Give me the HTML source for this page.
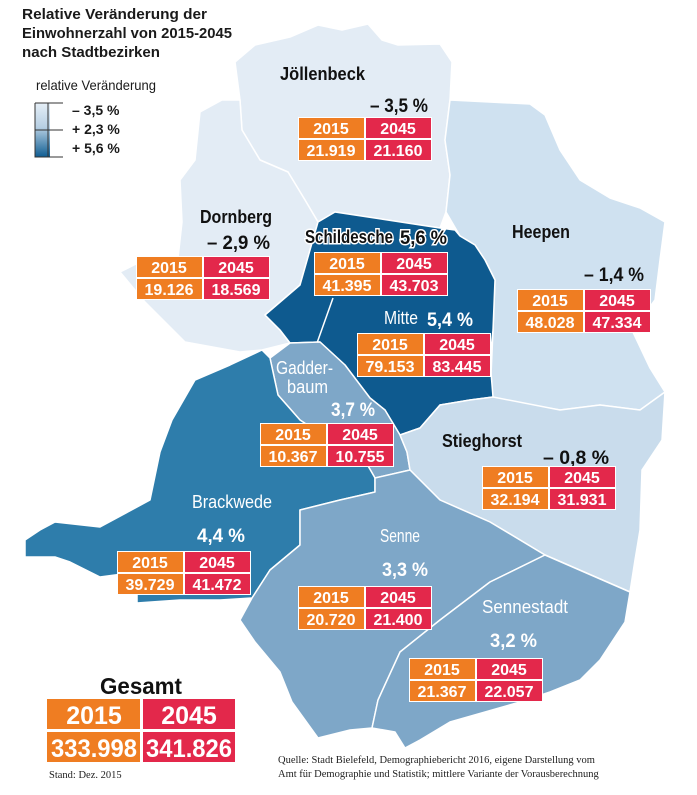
<!DOCTYPE html>
<html><head><meta charset="utf-8"><style>
body{margin:0;background:#fff;}
svg{display:block;}
.t{font-family:"Liberation Sans",sans-serif;font-weight:bold;}
.n{font-family:"Liberation Sans",sans-serif;}
</style></head><body>
<svg width="697" height="795" viewBox="0 0 697 795" xmlns="http://www.w3.org/2000/svg">
<defs>
<linearGradient id="lg" x1="0" y1="0" x2="0" y2="1">
<stop offset="0" stop-color="#e6eff7"/><stop offset="0.45" stop-color="#b6cfe3"/><stop offset="1" stop-color="#0f5d92"/>
</linearGradient>
</defs>
<g stroke="#fff" stroke-width="1.5" stroke-linejoin="round">
<path fill="#e3ecf5" d="M235,62 L255,45 L290,37 L318,25 L342,30 L368,24 L382,40 L398,45 L440,44 L452,62 L450,100 L445,140 L450,175 L446,212 L440,228 L335,212 L318,222 L305,200 L288,172 L260,160 L242,130 L240,100 Z"/>
<path fill="#e3ecf5" d="M200,112 L222,100 L240,100 L242,130 L260,160 L288,172 L305,200 L318,222 L300,285 L265,315 L280,330 L290,343 L262,350 L240,352 L185,342 L145,302 L120,272 L140,262 L178,258 L182,222 L180,180 L195,160 Z"/>
<path fill="#cfe1f0" d="M450,100 L530,104 L545,115 L560,150 L580,180 L610,198 L640,208 L665,222 L660,260 L655,300 L632,330 L650,368 L665,392 L640,410 L600,405 L560,410 L490,398 L493,330 L495,280 L485,260 L475,245 L460,236 L446,212 L450,175 L445,140 Z"/>
<path fill="#0e5a8f" d="M265,315 L300,285 L318,222 L335,212 L440,228 L455,230 L460,236 L475,245 L485,260 L495,280 L493,330 L490,360 L493,397 L470,400 L440,405 L420,428 L400,435 L385,410 L370,398 L345,365 L320,342 L290,343 L280,330 Z"/>
<path fill="none" d="M333,298 L317,343"/>
<path fill="#7ea7c8" d="M270,358 L290,343 L320,342 L345,365 L370,398 L385,410 L400,435 L407,452 L410,470 L375,478 L360,452 L330,440 L300,420 L278,395 Z"/>
<path fill="#c9dcec" d="M400,435 L420,428 L440,405 L470,400 L493,397 L560,410 L600,405 L640,410 L665,392 L662,440 L642,470 L640,530 L635,560 L630,592 L545,555 L490,522 L440,500 L410,470 L407,452 Z"/>
<path fill="#2e7dab" d="M195,380 L230,365 L262,350 L270,358 L278,395 L300,420 L330,440 L360,452 L375,478 L375,492 L340,500 L300,510 L300,545 L270,570 L252,598 L220,600 L180,600 L137,603 L137,572 L100,577 L70,562 L55,557 L25,557 L25,540 L40,530 L55,522 L100,527 L150,500 L160,452 L172,420 Z"/>
<path fill="#7ea7c8" d="M252,598 L270,570 L300,545 L300,510 L340,500 L375,492 L375,478 L410,470 L440,500 L490,522 L545,555 L490,582 L440,620 L400,652 L378,700 L372,728 L350,730 L318,738 L292,702 L280,672 L255,642 L240,620 Z"/>
<path fill="#7ea7c8" d="M545,555 L630,592 L625,622 L600,660 L580,680 L550,692 L520,702 L450,722 L420,740 L405,748 L395,732 L372,728 L378,700 L400,652 L440,620 L490,582 Z"/>
</g>
<g class="t" font-size="14.5" fill="#1a1a1a">
<text x="22" y="19" textLength="185" lengthAdjust="spacingAndGlyphs">Relative Veränderung der</text>
<text x="22" y="38" textLength="210" lengthAdjust="spacingAndGlyphs">Einwohnerzahl von 2015-2045</text>
<text x="22" y="57" textLength="138" lengthAdjust="spacingAndGlyphs">nach Stadtbezirken</text>
</g>
<text class="n" x="36" y="90" font-size="14" fill="#1a1a1a" textLength="120" lengthAdjust="spacingAndGlyphs">relative Veränderung</text>
<rect x="35" y="103" width="15" height="54" fill="url(#lg)"/>
<path d="M35,103 V157 H63 M35,103 H63 M48,103 V157 M35,130 H63" stroke="#333" stroke-width="1" fill="none"/>
<g class="t" font-size="14" fill="#1a1a1a">
<text x="72" y="115">– 3,5 %</text>
<text x="72" y="134">+ 2,3 %</text>
<text x="72" y="153">+ 5,6 %</text>
</g>
<g class="t" font-size="18" fill="#111" lengthAdjust="spacingAndGlyphs">
<text x="280" y="80" textLength="85" lengthAdjust="spacingAndGlyphs">Jöllenbeck</text>
<text x="370" y="112" font-size="19" textLength="58" lengthAdjust="spacingAndGlyphs">– 3,5 %</text>
<text x="200" y="223" textLength="72" lengthAdjust="spacingAndGlyphs">Dornberg</text>
<text x="207" y="249" font-size="19" textLength="63" lengthAdjust="spacingAndGlyphs">– 2,9 %</text>
<text x="512" y="238" textLength="58" lengthAdjust="spacingAndGlyphs">Heepen</text>
<text x="584" y="281" font-size="19" textLength="60" lengthAdjust="spacingAndGlyphs">– 1,4 %</text>
<text x="442" y="447" textLength="80" lengthAdjust="spacingAndGlyphs">Stieghorst</text>
<text x="543" y="464" font-size="19" textLength="66" lengthAdjust="spacingAndGlyphs">– 0,8 %</text>
<text x="305" y="243" stroke="#fff" stroke-width="3" paint-order="stroke" textLength="88" lengthAdjust="spacingAndGlyphs">Schildesche</text>
<text x="400" y="244" font-size="19" stroke="#fff" stroke-width="3" paint-order="stroke" textLength="47" lengthAdjust="spacingAndGlyphs">5,6 %</text>
</g>
<g class="t" fill="#fff" font-size="18">
<text x="384" y="324" font-weight="normal" textLength="34" lengthAdjust="spacingAndGlyphs">Mitte</text>
<text x="427" y="326" font-size="19" textLength="46" lengthAdjust="spacingAndGlyphs">5,4 %</text>
<text x="276" y="374" font-weight="normal" textLength="57" lengthAdjust="spacingAndGlyphs">Gadder-</text>
<text x="287" y="393" font-weight="normal" textLength="41" lengthAdjust="spacingAndGlyphs">baum</text>
<text x="331" y="416" font-size="19" textLength="44" lengthAdjust="spacingAndGlyphs">3,7 %</text>
<text x="192" y="508" font-weight="normal" textLength="80" lengthAdjust="spacingAndGlyphs">Brackwede</text>
<text x="197" y="542" font-size="19" textLength="48" lengthAdjust="spacingAndGlyphs">4,4 %</text>
<text x="380" y="542" font-weight="normal" textLength="40" lengthAdjust="spacingAndGlyphs">Senne</text>
<text x="382" y="576" font-size="19" textLength="46" lengthAdjust="spacingAndGlyphs">3,3 %</text>
<text x="482" y="613" font-weight="normal" textLength="86" lengthAdjust="spacingAndGlyphs">Sennestadt</text>
<text x="490" y="647" font-size="19" textLength="47" lengthAdjust="spacingAndGlyphs">3,2 %</text>
</g>
<g class="t" font-size="16" fill="#fff" text-anchor="middle">
<g transform="translate(298,117)"><rect x="0" y="0" width="134" height="44" fill="#fff"/><rect x="1" y="1" width="65" height="20" fill="#ef7d22"/><rect x="68" y="1" width="65" height="20" fill="#e3284b"/><rect x="1" y="23" width="65" height="20" fill="#ef7d22"/><rect x="68" y="23" width="65" height="20" fill="#e3284b"/><text x="33" y="17">2015</text><text x="100" y="17">2045</text><text x="33" y="39">21.919</text><text x="100" y="39">21.160</text></g>
<g transform="translate(136,256)"><rect x="0" y="0" width="134" height="44" fill="#fff"/><rect x="1" y="1" width="65" height="20" fill="#ef7d22"/><rect x="68" y="1" width="65" height="20" fill="#e3284b"/><rect x="1" y="23" width="65" height="20" fill="#ef7d22"/><rect x="68" y="23" width="65" height="20" fill="#e3284b"/><text x="33" y="17">2015</text><text x="100" y="17">2045</text><text x="33" y="39">19.126</text><text x="100" y="39">18.569</text></g>
<g transform="translate(314,252)"><rect x="0" y="0" width="134" height="44" fill="#fff"/><rect x="1" y="1" width="65" height="20" fill="#ef7d22"/><rect x="68" y="1" width="65" height="20" fill="#e3284b"/><rect x="1" y="23" width="65" height="20" fill="#ef7d22"/><rect x="68" y="23" width="65" height="20" fill="#e3284b"/><text x="33" y="17">2015</text><text x="100" y="17">2045</text><text x="33" y="39">41.395</text><text x="100" y="39">43.703</text></g>
<g transform="translate(357,333)"><rect x="0" y="0" width="134" height="44" fill="#fff"/><rect x="1" y="1" width="65" height="20" fill="#ef7d22"/><rect x="68" y="1" width="65" height="20" fill="#e3284b"/><rect x="1" y="23" width="65" height="20" fill="#ef7d22"/><rect x="68" y="23" width="65" height="20" fill="#e3284b"/><text x="33" y="17">2015</text><text x="100" y="17">2045</text><text x="33" y="39">79.153</text><text x="100" y="39">83.445</text></g>
<g transform="translate(517,289)"><rect x="0" y="0" width="134" height="44" fill="#fff"/><rect x="1" y="1" width="65" height="20" fill="#ef7d22"/><rect x="68" y="1" width="65" height="20" fill="#e3284b"/><rect x="1" y="23" width="65" height="20" fill="#ef7d22"/><rect x="68" y="23" width="65" height="20" fill="#e3284b"/><text x="33" y="17">2015</text><text x="100" y="17">2045</text><text x="33" y="39">48.028</text><text x="100" y="39">47.334</text></g>
<g transform="translate(260,423)"><rect x="0" y="0" width="134" height="44" fill="#fff"/><rect x="1" y="1" width="65" height="20" fill="#ef7d22"/><rect x="68" y="1" width="65" height="20" fill="#e3284b"/><rect x="1" y="23" width="65" height="20" fill="#ef7d22"/><rect x="68" y="23" width="65" height="20" fill="#e3284b"/><text x="33" y="17">2015</text><text x="100" y="17">2045</text><text x="33" y="39">10.367</text><text x="100" y="39">10.755</text></g>
<g transform="translate(482,466)"><rect x="0" y="0" width="134" height="44" fill="#fff"/><rect x="1" y="1" width="65" height="20" fill="#ef7d22"/><rect x="68" y="1" width="65" height="20" fill="#e3284b"/><rect x="1" y="23" width="65" height="20" fill="#ef7d22"/><rect x="68" y="23" width="65" height="20" fill="#e3284b"/><text x="33" y="17">2015</text><text x="100" y="17">2045</text><text x="33" y="39">32.194</text><text x="100" y="39">31.931</text></g>
<g transform="translate(117,551)"><rect x="0" y="0" width="134" height="44" fill="#fff"/><rect x="1" y="1" width="65" height="20" fill="#ef7d22"/><rect x="68" y="1" width="65" height="20" fill="#e3284b"/><rect x="1" y="23" width="65" height="20" fill="#ef7d22"/><rect x="68" y="23" width="65" height="20" fill="#e3284b"/><text x="33" y="17">2015</text><text x="100" y="17">2045</text><text x="33" y="39">39.729</text><text x="100" y="39">41.472</text></g>
<g transform="translate(298,586)"><rect x="0" y="0" width="134" height="44" fill="#fff"/><rect x="1" y="1" width="65" height="20" fill="#ef7d22"/><rect x="68" y="1" width="65" height="20" fill="#e3284b"/><rect x="1" y="23" width="65" height="20" fill="#ef7d22"/><rect x="68" y="23" width="65" height="20" fill="#e3284b"/><text x="33" y="17">2015</text><text x="100" y="17">2045</text><text x="33" y="39">20.720</text><text x="100" y="39">21.400</text></g>
<g transform="translate(409,658)"><rect x="0" y="0" width="134" height="44" fill="#fff"/><rect x="1" y="1" width="65" height="20" fill="#ef7d22"/><rect x="68" y="1" width="65" height="20" fill="#e3284b"/><rect x="1" y="23" width="65" height="20" fill="#ef7d22"/><rect x="68" y="23" width="65" height="20" fill="#e3284b"/><text x="33" y="17">2015</text><text x="100" y="17">2045</text><text x="33" y="39">21.367</text><text x="100" y="39">22.057</text></g>
<g transform="translate(47,699)" font-size="25"><rect x="0" y="0" width="93" height="30" fill="#ef7d22"/><rect x="96" y="0" width="92" height="30" fill="#e3284b"/><rect x="0" y="33" width="93" height="30" fill="#ef7d22"/><rect x="96" y="33" width="92" height="30" fill="#e3284b"/><text x="47" y="25">2015</text><text x="142" y="25">2045</text><text x="47" y="58" textLength="86" lengthAdjust="spacingAndGlyphs">333.998</text><text x="142" y="58" textLength="86" lengthAdjust="spacingAndGlyphs">341.826</text></g>
</g>
<text class="t" x="100" y="694" font-size="23" fill="#111" textLength="82" lengthAdjust="spacingAndGlyphs">Gesamt</text>
<g font-family="Liberation Serif, serif" font-size="10.5" fill="#222">
<text x="49" y="778">Stand: Dez. 2015</text>
<text x="278" y="763">Quelle: Stadt Bielefeld, Demographiebericht 2016, eigene Darstellung vom</text>
<text x="278" y="777">Amt für Demographie und Statistik; mittlere Variante der Vorausberechnung</text>
</g>
</svg>
</body></html>
